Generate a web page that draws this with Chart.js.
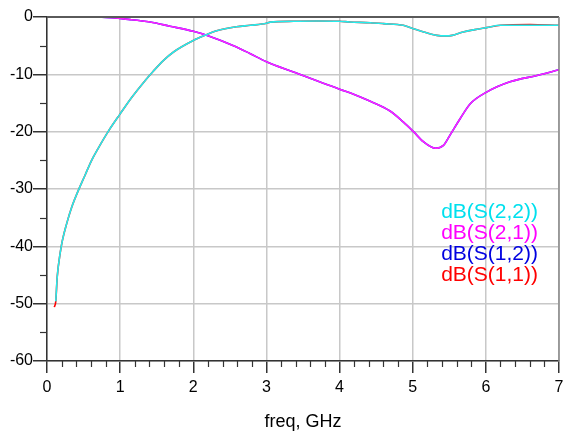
<!DOCTYPE html>
<html>
<head>
<meta charset="utf-8">
<script src="https://cdn.jsdelivr.net/npm/chart.js@4/dist/chart.umd.min.js"></script>
<style>
html,body{margin:0;padding:0;background:#fff;}
canvas{display:block;}
</style>
</head>
<body>
<canvas id="c" width="563" height="435"></canvas>
<script>
// ---- data ----
const seriesLabels = ["dB(S(2,2))", "dB(S(2,1))", "dB(S(1,2))", "dB(S(1,1))"];
const seriesColors = ["#22eeee", "#ff22ff", "#0000ff", "#ff0000"];
const legendColors = ["#00e0ee", "#ff00ff", "#0000e0", "#ff0000"];

const freqS22 = [0.12,0.14,0.18,0.21,0.27,0.34,0.43,0.52,0.61,0.70,0.84,1.0,1.16,1.34,1.45,1.59,1.73,2.0,2.16,2.32,2.59,2.78,3.0,3.05,3.37,3.7,4.0,4.14,4.42,4.6,4.87,5.0,5.15,5.33,5.45,5.54,5.69,5.85,6.01,6.2,6.6,7.0];
const s22 = [-49.6,-45.3,-41.2,-39.0,-36.0,-33.1,-30.2,-27.6,-25.0,-22.9,-19.9,-16.9,-14.0,-11.1,-9.5,-7.6,-6.1,-4.1,-3.2,-2.4,-1.7,-1.45,-1.1,-0.9,-0.75,-0.7,-0.75,-0.87,-1.0,-1.16,-1.45,-2.0,-2.6,-3.2,-3.3,-3.2,-2.6,-2.2,-1.85,-1.45,-1.45,-1.45];

const freqS11 = [0.1,0.12,0.14,0.18,0.21,0.27,0.34,0.43,0.52,0.61,0.70,0.84,1.0,1.16,1.34,1.45,1.59,1.73,2.0,2.16,2.32,2.59,2.78,3.0,3.05,3.37,3.7,4.0,4.14,4.42,4.6,4.87,5.0,5.15,5.33,5.45,5.54,5.69,5.85,6.01,6.2,6.6,7.0];
const s11 = [-50.6,-49.6,-45.3,-41.2,-39.0,-36.0,-33.1,-30.2,-27.6,-25.0,-22.9,-19.9,-16.9,-14.0,-11.1,-9.5,-7.6,-6.1,-4.1,-3.2,-2.4,-1.7,-1.45,-1.1,-0.9,-0.75,-0.7,-0.75,-0.87,-1.0,-1.16,-1.45,-2.0,-2.6,-3.2,-3.3,-3.2,-2.6,-2.2,-1.85,-1.45,-1.3,-1.45];

const freqS21 = [0.1,0.75,1.14,1.41,1.68,2.0,2.21,2.55,2.78,3.0,3.37,4.0,4.2,4.42,4.69,4.87,5.01,5.15,5.31,5.42,5.51,5.65,5.79,6.01,6.33,6.7,7.0];
const s21 = [0,-0.05,-0.45,-0.87,-1.6,-2.5,-3.3,-5.0,-6.4,-7.8,-9.6,-12.6,-13.5,-14.7,-16.4,-18.3,-20.0,-21.8,-22.9,-22.4,-20.6,-17.7,-15.1,-13.1,-11.3,-10.2,-9.2];
const freqS12 = freqS21;
const s12 = s21;

const xTicks = [0,1,2,3,4,5,6,7];
const yTicks = [0,-10,-20,-30,-40,-50,-60];
const xTitle = "freq, GHz";

function pts(xs, ys){ return xs.map((x,i)=>({x:x, y:ys[i]})); }

const minorTicks = {
  id: 'minorTicks',
  afterDraw(chart){
    const ctx = chart.ctx, a = chart.chartArea;
    const xs = chart.scales.x, ys = chart.scales.y;
    ctx.save();
    // frame top and right
    ctx.strokeStyle = '#5a5a5a'; ctx.lineWidth = 1.8;
    ctx.beginPath(); ctx.moveTo(a.left, a.top); ctx.lineTo(a.right, a.top); ctx.stroke();
    ctx.strokeStyle = '#888'; ctx.lineWidth = 1.5;
    ctx.beginPath(); ctx.moveTo(a.right, a.top); ctx.lineTo(a.right, a.bottom); ctx.stroke();
    // minor ticks
    ctx.strokeStyle = '#333'; ctx.lineWidth = 1.2;
    for (let i = 0; i < yTicks.length - 1; i++) {
      const v = (yTicks[i] + yTicks[i+1]) / 2;
      const py = Math.round(ys.getPixelForValue(v)) + 0.5;
      ctx.beginPath(); ctx.moveTo(a.left - 7, py); ctx.lineTo(a.left, py); ctx.stroke();
    }
    for (let i = 0; i < xTicks.length - 1; i++) {
      for (let k = 1; k < 5; k++) {
        const v = xTicks[i] + k * (xTicks[i+1] - xTicks[i]) / 5;
        const px = Math.round(xs.getPixelForValue(v)) + 0.5;
        ctx.beginPath(); ctx.moveTo(px, a.bottom); ctx.lineTo(px, a.bottom + 6); ctx.stroke();
      }
    }
    // legend text inside plot
    ctx.font = '21px "Liberation Sans", Arial, sans-serif';
    ctx.textAlign = 'right'; ctx.textBaseline = 'alphabetic';
    chart.data.datasets.forEach((ds, i) => {
      ctx.fillStyle = legendColors[i];
      ctx.fillText(ds.label, a.right - 21, a.top + 201 + i * 21);
    });
    ctx.restore();
  }
};

const datasets = [
  {label: seriesLabels[0], data: pts(freqS22, s22), borderColor: seriesColors[0]},
  {label: seriesLabels[1], data: pts(freqS21, s21), borderColor: seriesColors[1]},
  {label: seriesLabels[2], data: pts(freqS12, s12), borderColor: seriesColors[2]},
  {label: seriesLabels[3], data: pts(freqS11, s11), borderColor: seriesColors[3]}
].map(d => Object.assign(d, {borderWidth: 1.6, pointRadius: 0, fill: false, cubicInterpolationMode: 'monotone'}));

const tickFont = {family: '"Liberation Sans", Arial, sans-serif', size: 16};

new Chart(document.getElementById('c'), {
  type: 'line',
  data: {datasets: datasets},
  options: {
    responsive: false,
    devicePixelRatio: 1,
    animation: false,
    layout: {padding: {left: 0, right: 4, top: 17, bottom: 2}},
    plugins: {legend: {display: false}, tooltip: {enabled: false}},
    scales: {
      x: {
        type: 'linear', min: 0, max: 7,
        afterBuildTicks: s => { s.ticks = xTicks.map(v => ({value: v})); },
        afterFit: s => { s.height = 72; s.paddingRight = 0; s.paddingLeft = 0; },
        ticks: {font: tickFont, color: '#000', padding: 5, maxRotation: 0, callback: v => String(v)},
        grid: {color: '#c8c8c8', lineWidth: 1.5, tickColor: '#333', tickLength: 12, drawTicks: true},
        border: {color: '#333', width: 1.5},
        title: {display: true, text: xTitle, color: '#000', font: {family: '"Liberation Sans", Arial, sans-serif', size: 18}, padding: {top: 0, bottom: 0}}
      },
      y: {
        type: 'linear', min: -60, max: 0,
        afterBuildTicks: s => { s.ticks = yTicks.slice().reverse().map(v => ({value: v})); },
        afterFit: s => { s.width = 47; },
        ticks: {font: tickFont, color: '#000', padding: 0, callback: v => String(v)},
        grid: {color: '#c8c8c8', lineWidth: 1.5, tickColor: '#333', tickLength: 14, drawTicks: true},
        border: {color: '#333', width: 1.5}
      }
    }
  },
  plugins: [minorTicks]
});
</script>
</body>
</html>
